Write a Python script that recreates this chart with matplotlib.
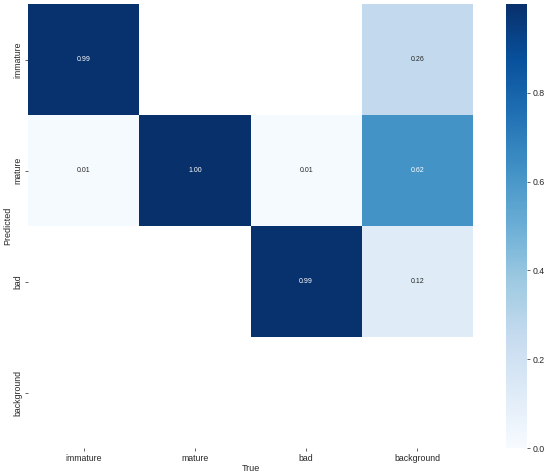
import numpy as np
import matplotlib
matplotlib.use("Agg")
import matplotlib.pyplot as plt
from matplotlib import colors as mcolors

names = ["immature", "mature", "bad", "background"]
# rows = Predicted, columns = True (nan = empty cell)
row_immature = [0.99, np.nan, np.nan, 0.26]
row_mature = [0.01, 1.00, 0.01, 0.62]
row_bad = [np.nan, np.nan, 0.99, 0.12]
row_background = [np.nan, np.nan, np.nan, np.nan]

matrix = np.array([row_immature, row_mature, row_bad, row_background])
cb_ticks = [0.0, 0.2, 0.4, 0.6, 0.8]

plt.rcParams["font.family"] = ["Liberation Sans", "DejaVu Sans"]
txt = "#262626"
fig = plt.figure(figsize=(5.5, 4.76), dpi=100)
ax = fig.add_axes([28 / 550, 1 - 448 / 476, 445 / 550, 444 / 476])
cax = fig.add_axes([506 / 550, 1 - 448 / 476, 21 / 550, 444 / 476])

cmap = plt.get_cmap("Blues")
norm = mcolors.Normalize(vmin=0.0, vmax=np.nanmax(matrix))
data = np.ma.masked_invalid(matrix)
mesh = ax.pcolormesh(data, cmap=cmap, norm=norm)
ax.set_facecolor("white")
ax.set_xlim(0, len(names))
ax.set_ylim(len(names), 0)

# annotations, text colour picked from cell brightness like seaborn does
for i in range(matrix.shape[0]):
    for j in range(matrix.shape[1]):
        v = matrix[i, j]
        if np.isnan(v):
            continue
        r, g, b, _ = cmap(norm(v))
        lin = [c / 12.92 if c <= 0.03928 else ((c + 0.055) / 1.055) ** 2.4 for c in (r, g, b)]
        lum = 0.2126 * lin[0] + 0.7152 * lin[1] + 0.0722 * lin[2]
        ax.text(j + 0.5, i + 0.5, f"{v:.2f}", ha="center", va="center",
                fontsize=5, color=txt if lum > 0.408 else "white")

ax.set_xticks(np.arange(len(names)) + 0.5)
ax.set_xticklabels(names)
ax.set_yticks(np.arange(len(names)) + 0.5)
ax.set_yticklabels(names, rotation=90, va="center")
ax.tick_params(labelsize=6.3, length=2, width=0.5, colors=txt, pad=2)
for s in ax.spines.values():
    s.set_visible(False)
ax.set_xlabel("True", fontsize=6.5, color=txt, labelpad=1)
ax.set_ylabel("Predicted", fontsize=6.5, color=txt, labelpad=1)

cb = fig.colorbar(mesh, cax=cax)
cb.set_ticks(cb_ticks)
cb.outline.set_visible(False)
cax.tick_params(labelsize=6.3, length=2, width=0.5, colors=txt, pad=2)

fig.savefig("out.png", dpi=100)
